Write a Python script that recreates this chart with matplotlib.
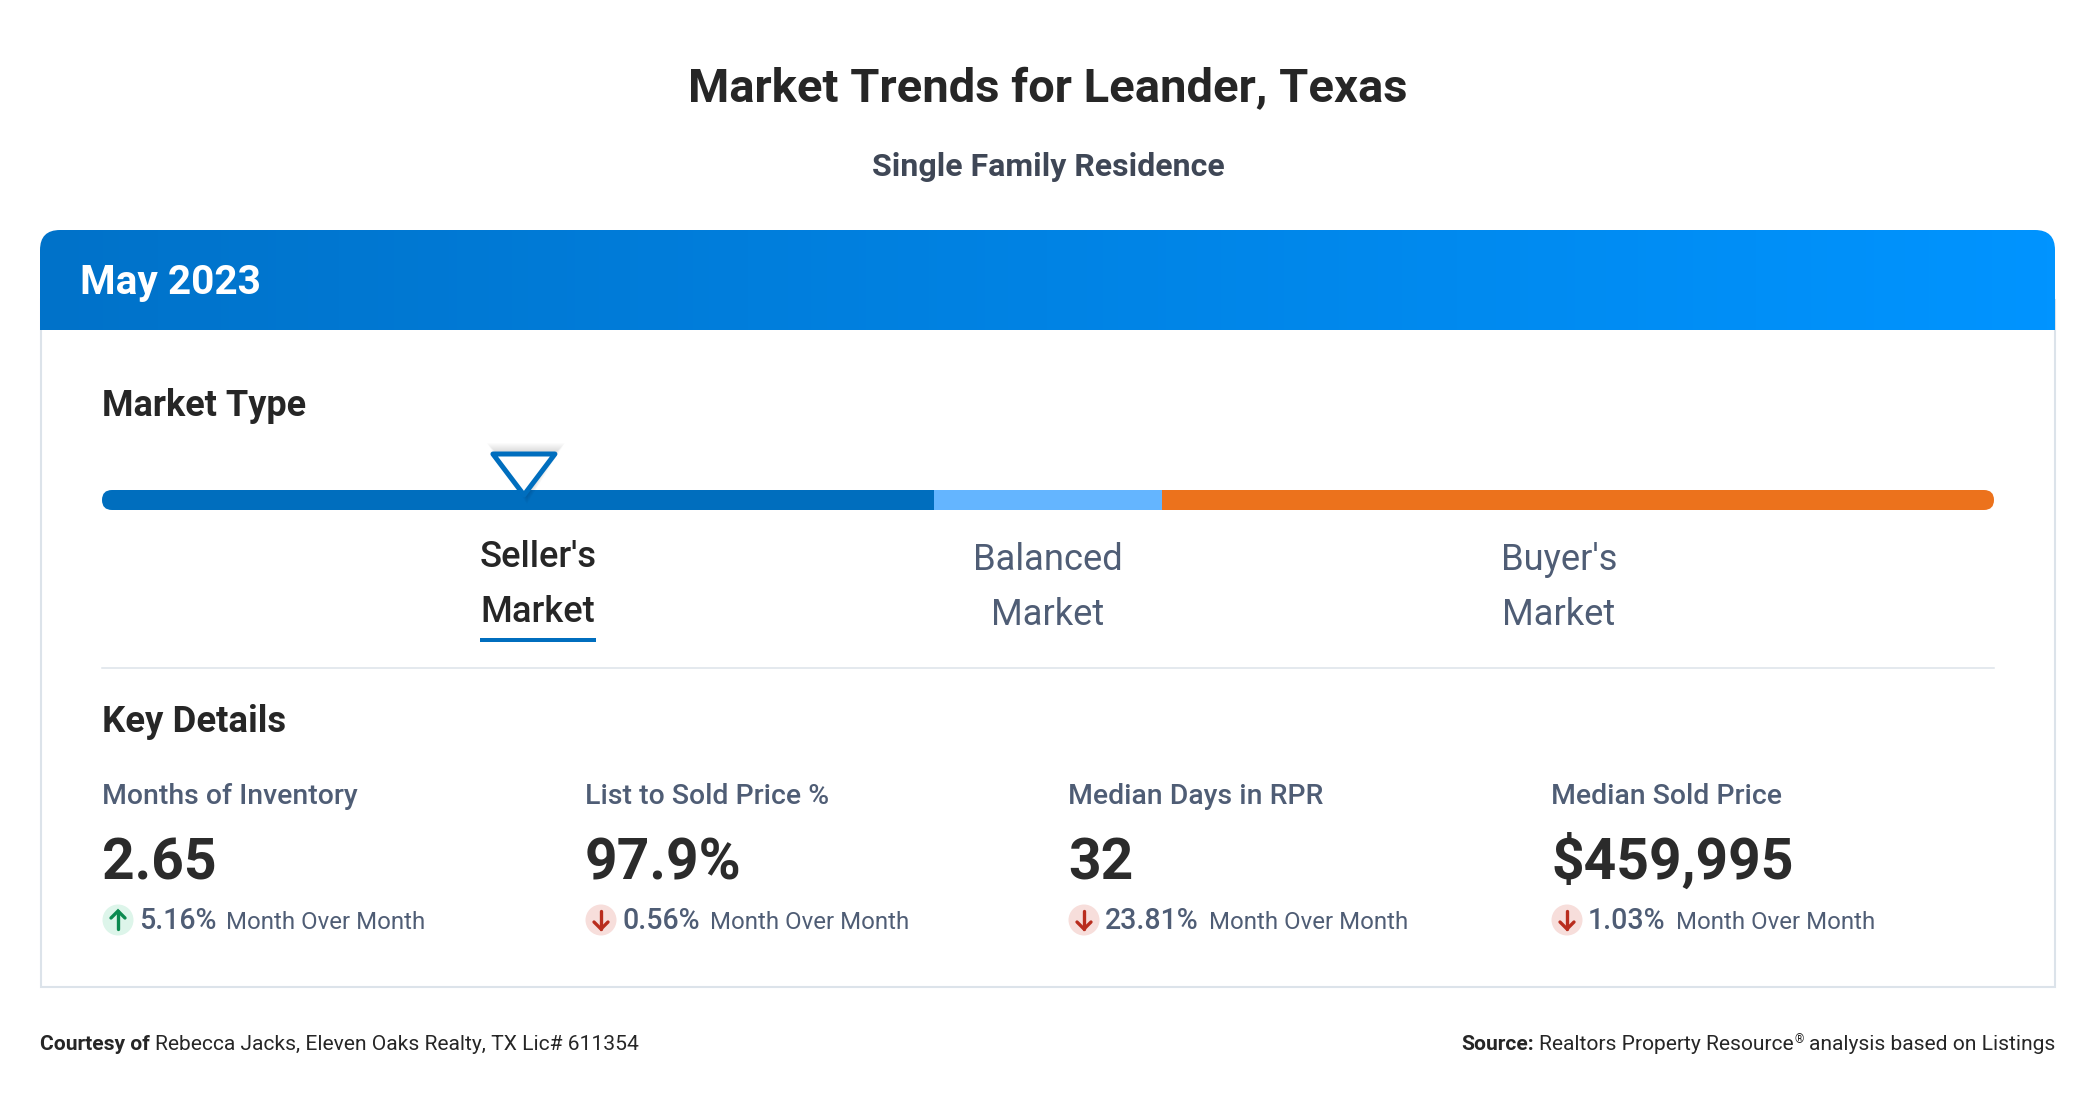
import numpy as np
import matplotlib
matplotlib.use("Agg")
import matplotlib.pyplot as plt
from matplotlib.patches import FancyBboxPatch, Ellipse, Polygon, Rectangle

# data
title = "Market Trends for Leander, Texas"
subtitle = "Single Family Residence"
month = "May 2023"
market_names = ["Seller's", "Balanced", "Buyer's"]
market_share = [44, 12, 44]
market_colors = ["#006EBE", "#64B5FF", "#EC721C"]
marker_pos = 22.3
metric_names = ["Months of Inventory", "List to Sold Price %", "Median Days in RPR", "Median Sold Price"]
metric_values = ["2.65", "97.9%", "32", "$459,995"]
metric_changes = [5.16, 0.56, 23.81, 1.03]
metric_dirs = ["up", "down", "down", "down"]

DARK = "#262626"
GREY = "#4F5D75"
BORDER = "#DCE3EA"

plt.rcParams['font.family'] = ['Roboto', 'DejaVu Sans']

fig = plt.figure(figsize=(20.96, 11), dpi=100)
ax = fig.add_axes([0, 0, 1, 1])
ax.set_xlim(0, 2096)
ax.set_ylim(1100, 0)
ax.axis("off")
renderer = fig.canvas.get_renderer()


def px(size):
    return size * 0.72


def put(x, y, s, size, color=DARK, weight="normal", ha="left"):
    return ax.text(x, y, s, fontsize=px(size), color=color, fontweight=weight, ha=ha, va="baseline")


def run_widths(runs):
    out = []
    for s, size, color, weight, gap in runs:
        t = put(0, 0, s, size, color, weight)
        out.append(t.get_window_extent(renderer).width + gap)
        t.remove()
    return out


def put_runs(x, y, runs):
    for (s, size, color, weight, gap), w in zip(runs, run_widths(runs)):
        put(x, y - (7 if s == "®" else 0), s, size, color, weight)
        x += w
    return x


# heading
put(1048, 102, title, 47.2, DARK, "bold", "center")
put(1048, 176, subtitle, 32, "#3F4756", "bold", "center")

# card
ax.add_patch(Rectangle((40.5, 300), 2014.5, 687, fc="white", ec=BORDER, lw=1.5, zorder=1))
header = FancyBboxPatch((40, 230), 2015, 130, boxstyle="round,pad=0,rounding_size=20", fc="none", ec="none", zorder=2)
ax.add_patch(header)
grad = np.linspace(0, 1, 256).reshape(1, -1)
cmap = matplotlib.colors.LinearSegmentedColormap.from_list("hdr", ["#0072C9", "#0094FF"])
im = ax.imshow(grad, extent=(40, 2055, 330, 230), cmap=cmap, aspect="auto", zorder=3)
im.set_clip_path(header)
ax.set_xlim(0, 2096)
ax.set_ylim(1100, 0)
put(80, 294, month, 40.6, "white", "bold").set_zorder(5)

# market type
put(102, 416, "Market Type", 36, DARK, "bold")

scale_x = 102
scale_w = 1892
track = FancyBboxPatch((scale_x, 490), scale_w, 20, boxstyle="round,pad=0,rounding_size=10", fc="none", ec="none")
ax.add_patch(track)
left = 0
for share, col in zip(market_share, market_colors):
    bar = ax.barh(500, share * scale_w / 100, height=20, left=scale_x + left * scale_w / 100, color=col, zorder=3)
    bar[0].set_clip_path(track)
    left += share

# pointer with its soft shadow
mx = scale_x + marker_pos * scale_w / 100
for grow in range(8, 0, -1):
    ax.add_patch(Polygon([(mx - 31 - grow + 2, 451 - grow), (mx + 33 + grow, 451 - grow), (mx + 3, 496 + grow)],
                         closed=True, fc="black", ec="none", alpha=0.016, zorder=4, joinstyle="round"))
ax.add_patch(Polygon([(mx - 31, 454), (mx + 31, 454), (mx, 495)], closed=True, fc="white", ec="#006EBE",
                     lw=3.6, joinstyle="round", zorder=5))

label_x = [538, 1048, 1559]
for i, (name, lx) in enumerate(zip(market_names, label_x)):
    col = DARK if i == 0 else GREY
    dy = 0 if i == 0 else 3
    weight = "medium" if i == 0 else "normal"
    put(lx, 567 + dy, name, 36.4, col, weight, "center")
    put(lx, 622 + dy, "Market", 36.4, col, weight, "center")
ax.add_patch(Rectangle((480, 638), 116, 4, fc="#006EBE", ec="none", zorder=3))

ax.plot([102, 1994], [668, 668], color=BORDER, lw=1.1)

# key details
put(102, 732, "Key Details", 36.5, DARK, "bold")
col_x = [102, 585, 1068, 1551]
for x, name, val, chg, d in zip(col_x, metric_names, metric_values, metric_changes, metric_dirs):
    put(x, 804, name, 28.4, GREY, "medium")
    put(x, 879, val, 57, "#2B2B2B", "bold")
    up = d == "up"
    ax.add_patch(Ellipse((x + 16, 920), 31, 31, fc="#DDF5EA" if up else "#F7DEDB", ec="none", zorder=3))
    c = "#0B8A50" if up else "#B92D1E"
    tip, tail = (911, 929) if up else (929, 911)
    back = tip + 7 if up else tip - 7
    ax.plot([x + 16, x + 16], [tail, tip], color=c, lw=2.4, zorder=4, solid_capstyle="round")
    ax.plot([x + 9, x + 16, x + 23], [back, tip, back], color=c, lw=2.4, zorder=4, solid_capstyle="round", solid_joinstyle="miter")
    put_runs(x + 37, 929, [(f"{chg:.2f}%", 28.5, GREY, "medium", 10), ("Month Over Month", 24, GREY, "normal", 0)])

# footer
put_runs(40, 1050, [("Courtesy of", 21, DARK, "bold", 5), ("Rebecca Jacks, Eleven Oaks Realty, TX Lic# 611354", 21, DARK, "normal", 0)])
src = [("Source:", 21, DARK, "bold", 5), ("Realtors Property Resource", 21, DARK, "normal", 1), ("®", 12, DARK, "normal", 5),
       ("analysis based on Listings", 21, DARK, "normal", 0)]
put_runs(2055 - sum(run_widths(src)), 1050, src)

fig.savefig("out.png", dpi=100, facecolor="white")
